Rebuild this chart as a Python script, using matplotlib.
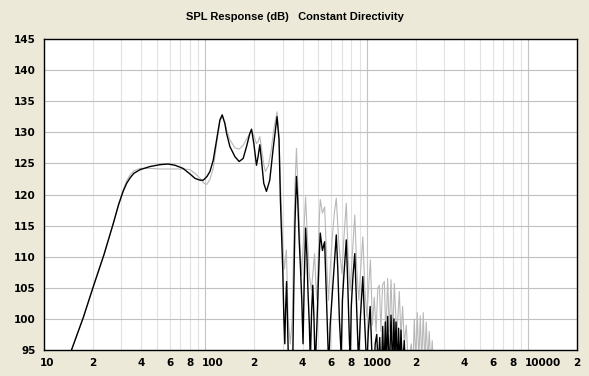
import matplotlib
matplotlib.use("Agg")
import matplotlib.pyplot as plt
from matplotlib.transforms import ScaledTranslation

# SPL response curves (frequency in Hz, level in dB)
black_freq = [
    12, 14.8, 17.5, 20.2, 23.5, 26.9, 29, 30.9, 32.5, 34.2,
    36, 39.4, 45.4, 52.4, 58.7, 64.8, 72.6, 80.2, 86.1, 92.5,
    96.9, 102.2, 106.6, 111.7, 117.3, 122.9, 127, 131.9, 135.2, 141.7,
    152.1, 161.7, 171.2, 179.6, 188.2, 192.9, 199.3, 207, 211.8, 217,
    222.3, 229.6, 238.6, 250.1, 262.1, 277.5, 285.5, 291.2, 301, 306,
    310, 313, 318, 323, 330, 345, 352, 358, 366, 373,
    380, 388, 395, 402, 409, 417, 425, 432, 440, 446,
    454, 462, 470, 478, 490, 500, 507, 514, 530, 547,
    560, 572, 580, 592, 610, 628, 646, 660, 675, 693,
    705, 720, 745, 760, 778, 788, 800, 820, 841, 860,
    887, 910, 943, 970, 998, 1020, 1047, 1075, 1100, 1125,
    1150, 1175, 1200, 1225, 1252, 1275, 1300, 1320, 1344, 1375,
    1410, 1440, 1470, 1490, 1514, 1545, 1570, 1600, 1625, 1660,
    1703, 1740,
]
black_db = [
    88, 95.0, 100.2, 105.2, 110.3, 115.4, 118.4, 120.5, 121.8, 122.7,
    123.4, 124.0, 124.5, 124.8, 124.9, 124.7, 124.2, 123.3, 122.6, 122.3,
    122.3, 122.9, 123.7, 125.5, 128.8, 132.0, 132.8, 131.4, 129.8, 127.7,
    126.1, 125.3, 125.8, 127.7, 129.8, 130.5, 128.2, 124.7, 126.1, 128.0,
    125.5, 121.8, 120.5, 122.3, 127.2, 132.5, 128.8, 119.1, 108, 100,
    96, 101, 106, 98, 88, 88, 104, 115, 122.9, 119,
    113, 108, 103, 96, 106, 114.6, 110, 104, 99, 93,
    101, 105.4, 100, 92, 99, 106, 110.5, 113.8, 111, 112.4,
    104, 96, 92, 99, 104, 109, 113.5, 108, 100, 94,
    103, 107, 112.7, 106, 97, 93, 102, 107, 110.5, 103,
    93, 100, 106.8, 99, 92, 98, 102, 94, 90, 96,
    97.5, 92, 97, 90, 98.8, 91, 99.5, 92, 100.4, 91,
    100.6, 92, 100, 93, 99.5, 92, 98.5, 92, 98.2, 92,
    96.5, 90,
]

gray_freq = [
    12, 14.8, 17.5, 20.2, 23.5, 26.9, 29, 30.9, 32.5, 34.2,
    36, 39.4, 45.4, 52.4, 58.7, 64.8, 72.6, 80.2, 86.1, 92.5,
    96.9, 101.6, 106.6, 111.7, 117.3, 122.9, 127, 131.9, 135.2, 141.7,
    152.1, 161.7, 171.2, 179.6, 188.2, 192.9, 199.3, 207, 211.8, 217,
    222.3, 229.6, 235, 245, 255, 265, 277.5, 285.5, 291.2, 301,
    308, 317, 325, 335, 345, 352, 358, 366, 375, 385,
    393, 405, 417, 430, 440, 453, 465, 474, 482, 490,
    500, 507, 514, 530, 547, 560, 572, 578, 592, 610,
    628, 646, 670, 700, 720, 745, 765, 788, 810, 841,
    865, 891, 915, 943, 970, 998, 1025, 1051, 1082, 1110,
    1140, 1168, 1195, 1220, 1250, 1282, 1310, 1344, 1375, 1410,
    1445, 1478, 1530, 1587, 1625, 1663, 1705, 1753, 1800, 1883,
    1925, 1964, 2005, 2050, 2095, 2139, 2185, 2233, 2280, 2330,
    2380, 2432, 2490, 2537, 2600,
]
gray_db = [
    88, 95.0, 100.2, 105.2, 110.3, 115.4, 118.5, 120.7, 122.2, 123.2,
    123.8, 124.2, 124.2, 124.1, 124.1, 124.1, 124.1, 124.0, 123.4, 122.6,
    121.9, 121.6, 122.4, 124.2, 128.2, 131.8, 132.6, 131.6, 130.4, 128.8,
    127.5, 127.3, 127.9, 128.9, 129.8, 130.1, 129.5, 128.2, 128.5, 129.3,
    127.5, 124.8, 123.7, 124.6, 127, 130.5, 133.3, 129.5, 122, 112,
    108, 111.1, 100, 96, 100, 112, 121, 127.4, 120, 112,
    107, 113, 119.6, 112, 107, 104.6, 108, 110.5, 106, 103,
    110, 116, 119.2, 117, 118, 111, 105, 103, 108, 113,
    117, 119.4, 112, 107.3, 113, 118.6, 110, 104.6, 110, 116.7,
    108, 103, 108, 113.2, 105, 100.4, 105, 109.5, 99, 103.5,
    98, 105, 105.4, 98, 105.5, 106, 97, 106.5, 98, 106.3,
    97, 105.7, 97, 104.4, 97, 102, 96, 99, 93, 96,
    92, 100, 93, 101, 93, 100.5, 93, 101, 93, 99.5,
    93, 98, 92, 96.5, 90,
]

x_ticks = [10, 20, 40, 60, 80, 100, 200, 400, 600, 800,
           1000, 2000, 4000, 6000, 8000, 10000, 20000]
x_labels = ["10", "2", "4", "6", "8", "100", "2", "4", "6", "8",
            "1000", "2", "4", "6", "8", "10000", "2"]
y_ticks = [95, 100, 105, 110, 115, 120, 125, 130, 135, 140, 145]

bg = "#ECE9D8"
fig = plt.figure(figsize=(5.89, 3.76), dpi=100, facecolor=bg)
ax = fig.add_axes([44 / 589, 26 / 376, 533 / 589, 311 / 376])
ax.set_facecolor("white")

ax.set_xscale("log")
ax.set_xlim(10, 20000)
ax.set_ylim(95, 145)

# grid: light minor verticals, darker decades and horizontals
for f in [20, 30, 40, 50, 60, 70, 80, 90, 200, 300, 400, 500, 600, 700, 800, 900,
          2000, 3000, 4000, 5000, 6000, 7000, 8000, 9000]:
    ax.axvline(f, color="#E2E2E2", lw=0.8, zorder=0)
for f in [100, 1000, 10000]:
    ax.axvline(f, color="#C4C4C4", lw=0.8, zorder=0)
for v in y_ticks[1:-1]:
    ax.axhline(v, color="#C0C0C0", lw=0.8, zorder=0)

ax.plot(gray_freq, gray_db, color="#B8B8B8", lw=0.8, zorder=2)
ax.plot(black_freq, black_db, color="black", lw=1.0, zorder=3)

ax.set_xticks(x_ticks)
ax.set_xticklabels(x_labels)
ax.minorticks_off()
ax.set_yticks(y_ticks)
ax.tick_params(length=0, labelsize=7.5, pad=6)
for lbl in ax.get_xticklabels() + ax.get_yticklabels():
    lbl.set_fontweight("bold")
    lbl.set_family("DejaVu Sans")
# multi-digit labels start just left of their gridline
for lbl in ax.get_xticklabels():
    if len(lbl.get_text()) > 1:
        lbl.set_ha("left")
        lbl.set_transform(lbl.get_transform()
                          + ScaledTranslation(-4 / 100, 0, fig.dpi_scale_trans))

for s in ax.spines.values():
    s.set_linewidth(1.0)
    s.set_color("black")

fig.text(0.5, 1 - 17 / 376, "SPL Response (dB)   Constant Directivity",
         ha="center", va="center", fontsize=8, fontweight="bold",
         family="Liberation Sans")

fig.savefig("out.png", dpi=100, facecolor=bg)
